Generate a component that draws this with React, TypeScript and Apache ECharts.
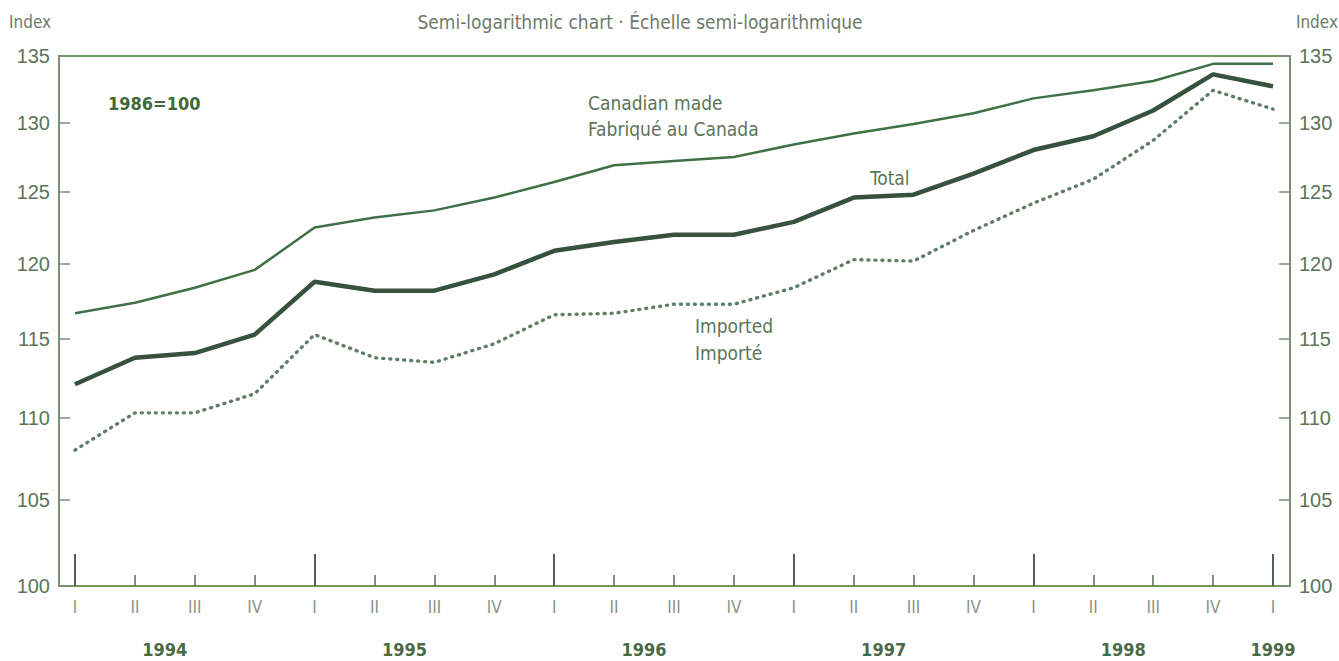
import React, { useEffect, useRef } from "react";
import * as echarts from "echarts";

const quarterLabels = ["I", "II", "III", "IV", "I", "II", "III", "IV", "I", "II", "III", "IV", "I", "II", "III", "IV", "I", "II", "III", "IV", "I"];
const yearLabels = ["1994", "1995", "1996", "1997", "1998", "1999"];
const yearLabelPos = [1.5, 5.5, 9.5, 13.5, 17.5, 20];
const yearStartPos = [0, 4, 8, 12, 16, 20];
const yTicks = [100, 105, 110, 115, 120, 125, 130, 135];

const canadianMade = [116.7, 117.4, 118.4, 119.6, 122.5, 123.2, 123.7, 124.6, 125.7, 126.9, 127.2, 127.5, 128.4, 129.2, 129.9, 130.7, 131.8, 132.4, 133.1, 134.4, 134.4];
const total = [112.1, 113.8, 114.1, 115.3, 118.8, 118.2, 118.2, 119.3, 120.9, 121.5, 122.0, 122.0, 122.9, 124.6, 124.8, 126.3, 128.0, 129.0, 130.9, 133.6, 132.7];
const imported = [108.0, 110.3, 110.3, 111.5, 115.3, 113.8, 113.5, 114.7, 116.6, 116.7, 117.3, 117.3, 118.4, 120.3, 120.2, 122.3, 124.2, 125.9, 128.7, 132.4, 131.0];

const FONT = '"Liberation Sans Narrow", "DejaVu Sans Condensed", "Liberation Sans", sans-serif';
const TEXT = "#5b7458";
const FRAME = "#6f9a5c";
const AXIS = "#7d8c7a";

export default function App() {
  const ref = useRef<HTMLDivElement>(null);
  useEffect(() => {
    if (!ref.current) return;
    const chart = echarts.init(ref.current, null, { renderer: "svg" });
    const xMin = -0.267;
    const xMax = 20.284;
    const yAxisBase = (pos: "left" | "right") => ({
      type: "log",
      logBase: 10,
      position: pos,
      min: 100,
      max: 135,
      axisLine: { show: true, onZero: false, lineStyle: { color: AXIS, width: 1.5 } },
      axisTick: { show: true, inside: true, length: 11, customValues: yTicks, lineStyle: { color: AXIS, width: 1.5 } },
      axisLabel: {
        show: true,
        customValues: yTicks,
        margin: 9,
        color: TEXT,
        fontFamily: '"Liberation Sans", Arial, sans-serif',
        fontSize: 20,
        formatter: (v: number) => String(Math.round(v)),
      },
      splitLine: { show: false },
    });
    chart.setOption({
      animation: false,
      backgroundColor: "#ffffff",
      grid: { left: 59, right: 49, top: 56, bottom: 75, show: true, borderColor: FRAME, borderWidth: 2, backgroundColor: "transparent" },
      xAxis: [
        {
          type: "value",
          min: xMin,
          max: xMax,
          position: "bottom",
          axisLine: { show: true, onZero: false, lineStyle: { color: FRAME, width: 2 } },
          axisTick: { show: true, inside: true, length: 11, customValues: quarterLabels.map((_, i) => i), lineStyle: { color: "#556b52", width: 1.5 } },
          axisLabel: {
            show: true,
            customValues: quarterLabels.map((_, i) => i),
            margin: 12,
            color: "#8a958a",
            fontFamily: FONT,
            fontSize: 17,
            formatter: (v: number) => quarterLabels[Math.round(v)] ?? "",
          },
          splitLine: { show: false },
        },
        {
          type: "value",
          min: xMin,
          max: xMax,
          position: "bottom",
          axisLine: { show: false, onZero: false },
          axisTick: { show: true, inside: true, length: 32, customValues: yearStartPos, lineStyle: { color: "#4e634b", width: 2 } },
          axisLabel: {
            show: true,
            customValues: yearLabelPos,
            margin: 54,
            color: "#4a6a44",
            fontFamily: FONT,
            fontWeight: "bold",
            fontSize: 18,
            formatter: (v: number) => {
              const idx = yearLabelPos.findIndex((p) => Math.abs(p - v) < 0.01);
              return idx >= 0 ? yearLabels[idx] : "";
            },
          },
          splitLine: { show: false },
        },
      ],
      yAxis: [yAxisBase("left"), yAxisBase("right")],
      series: [
        {
          name: "Canadian made",
          type: "line",
          xAxisIndex: 0,
          yAxisIndex: 0,
          data: canadianMade.map((v, i) => [i, v]),
          showSymbol: false,
          lineStyle: { color: "#3f7046", width: 2.5 },
          z: 3,
        },
        {
          name: "Total",
          type: "line",
          xAxisIndex: 0,
          yAxisIndex: 0,
          data: total.map((v, i) => [i, v]),
          showSymbol: false,
          lineStyle: { color: "#36523f", width: 4.5 },
          z: 4,
        },
        {
          name: "Imported",
          type: "line",
          xAxisIndex: 0,
          yAxisIndex: 0,
          data: imported.map((v, i) => [i, v]),
          showSymbol: false,
          lineStyle: { color: "#5f7d68", width: 3.4, type: [1, 6], cap: "round" },
          z: 3,
        },
      ],
      graphic: [
        { type: "text", x: 9, y: 22, style: { text: "Index", font: `17px ${FONT}`, fill: "#6d7a6b", textAlign: "left", textVerticalAlign: "middle" } },
        { type: "text", x: 1338, y: 22, style: { text: "Index", font: `17px ${FONT}`, fill: "#6d7a6b", textAlign: "right", textVerticalAlign: "middle" } },
        { type: "text", x: 640, y: 22, style: { text: "Semi-logarithmic chart · Échelle semi-logarithmique", font: `19px ${FONT}`, fill: "#6d7a6b", textAlign: "center", textVerticalAlign: "middle" } },
        { type: "text", x: 108, y: 103, style: { text: "1986=100", font: `bold 18px ${FONT}`, fill: "#3f6a38", textAlign: "left", textVerticalAlign: "middle" } },
        { type: "text", x: 588, y: 103, style: { text: "Canadian made", font: `19px ${FONT}`, fill: TEXT, textAlign: "left", textVerticalAlign: "middle" } },
        { type: "text", x: 588, y: 129, style: { text: "Fabriqué au Canada", font: `19px ${FONT}`, fill: TEXT, textAlign: "left", textVerticalAlign: "middle" } },
        { type: "text", x: 870, y: 178, style: { text: "Total", font: `19px ${FONT}`, fill: TEXT, textAlign: "left", textVerticalAlign: "middle" } },
        { type: "text", x: 695, y: 326, style: { text: "Imported", font: `19px ${FONT}`, fill: TEXT, textAlign: "left", textVerticalAlign: "middle" } },
        { type: "text", x: 695, y: 353, style: { text: "Importé", font: `19px ${FONT}`, fill: TEXT, textAlign: "left", textVerticalAlign: "middle" } },
      ],
    });
    return () => chart.dispose();
  }, []);
  return <div ref={ref} style={{ position: "fixed", left: 0, top: 0, width: 1339, height: 661 }} />;
}
